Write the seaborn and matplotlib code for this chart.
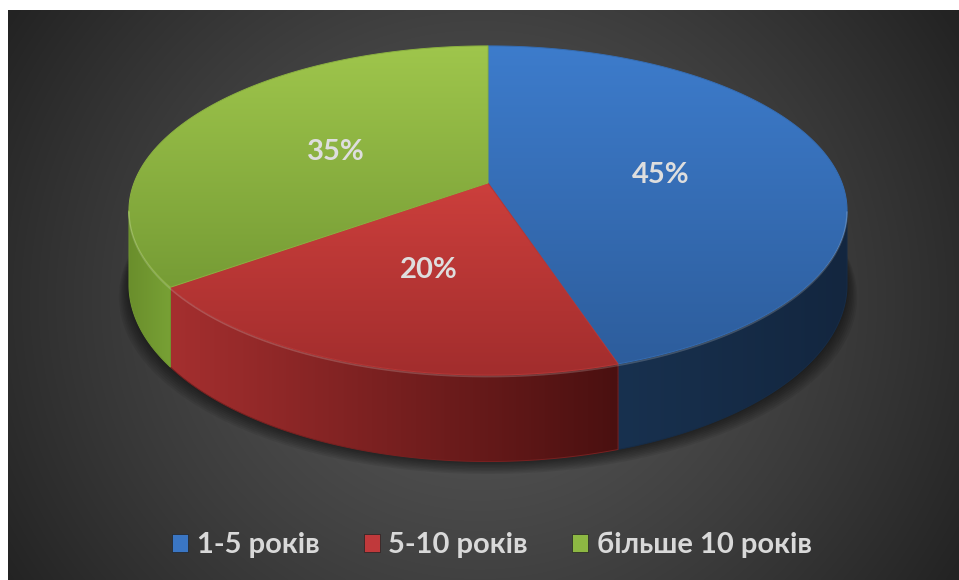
import numpy as np
import matplotlib
matplotlib.use("Agg")
import matplotlib.pyplot as plt
import seaborn as sns
from matplotlib.patches import Polygon, Patch
from matplotlib.colors import to_rgb

# data
labels = ['1-5 років', '5-10 років', 'більше 10 років']
shares = [45, 20, 35]

# colours (top face: light -> dark, side face: left -> right)
top_colors = [('#3d7ccc', '#2d5d9c'), ('#cc3f3c', '#a22d2d'), ('#9fc64c', '#769c35')]
side_colors = [('#18314f', '#13263f'), ('#a52f2f', '#4a1010'), ('#6a8e2c', '#78a135')]
legend_colors = ['#3a76c4', '#c0393b', '#8db843']

sns.set_theme(style="white")
FONT = ['Lato', 'DejaVu Sans']
plt.rcParams['font.family'] = FONT

# pie geometry in pixel space
CX, CY = 488, 183
A, B, K = 354, 160, 0.167
DEPTH = 72


def project(t, f=1.0):
    u = f * np.sin(t)
    v = f * np.cos(t)
    s = 1.0 / (1 + K * v)
    return CX + A * u * s, CY - B * v * s


def drop(t):
    return DEPTH / (1 + K * np.cos(t))


def grad_fill(ax, pts, c1, c2, horizontal=False, z=2):
    pts = np.asarray(pts)
    c1 = np.array(to_rgb(c1))
    c2 = np.array(to_rgb(c2))
    poly = Polygon(pts, closed=True, fc='none', ec='none', zorder=z)
    ax.add_patch(poly)
    x0, y0 = pts.min(0)
    x1, y1 = pts.max(0)
    w = np.linspace(0, 1, 256)
    g = c1[None, :] * (1 - w[:, None]) + c2[None, :] * w[:, None]
    img = g[None, :, :] if horizontal else g[:, None, :]
    im = ax.imshow(img, extent=(x0, x1, y1, y0), origin='upper', aspect='auto',
                   interpolation='bilinear', zorder=z)
    im.set_clip_path(poly)
    ax.add_patch(Polygon(pts, closed=True, fc='none', ec=(c1 + c2) / 2, lw=0.7, zorder=z))


fig = plt.figure(figsize=(9.59, 5.80), dpi=100)
fig.patch.set_facecolor('white')
ax = fig.add_axes([0, 0, 1, 1])

# radial background
xx, yy = np.meshgrid(np.linspace(8, 959, 480), np.linspace(10, 580, 290))
r = np.sqrt(((xx - 480) / 1.0) ** 2 + ((yy - 300) / 0.95) ** 2)
frac = np.clip(r / 560, 0, 1) ** 1.3
lev = (88 - 53 * frac) / 255
bg = np.dstack([lev, lev, lev])
ax.imshow(bg, extent=(8, 959, 580, 10), origin='upper', aspect='auto',
          interpolation='bilinear', zorder=0)

# shadow under the pie
tt = np.linspace(0, 2 * np.pi, 300)
sx, sy = project(tt)
for i in range(8):
    off = 2 + i * 1.5
    ax.add_patch(Polygon(np.column_stack([CX + (sx - CX) * (1 + i * 0.004), sy + drop(tt) + off]),
                         closed=True, fc='black', ec='none', alpha=0.07, zorder=1))

bounds = np.concatenate([[0], np.cumsum(shares)]) / np.sum(shares) * 2 * np.pi
t_lo = np.arccos(-K)
t_hi = 2 * np.pi - t_lo

# side faces
for i in range(len(shares)):
    a = max(bounds[i], t_lo)
    b = min(bounds[i + 1], t_hi)
    if a >= b:
        continue
    ts = np.linspace(a, b, 120)
    px, py = project(ts)
    pts = np.concatenate([np.column_stack([px, py]),
                          np.column_stack([px, py + drop(ts)])[::-1]])
    grad_fill(ax, pts, side_colors[i][0], side_colors[i][1], horizontal=True, z=2)

# top faces
for i in range(len(shares)):
    ts = np.linspace(bounds[i], bounds[i + 1], 200)
    px, py = project(ts)
    pts = np.concatenate([[[CX, CY]], np.column_stack([px, py])])
    grad_fill(ax, pts, top_colors[i][0], top_colors[i][1], z=3)

# highlight on the front rim
ts = np.linspace(t_lo, t_hi, 200)
px, py = project(ts)
ax.plot(px, py + 1.5, color='white', alpha=0.18, lw=1.2, zorder=4)

# percentage labels
for i, s in enumerate(shares):
    mid = (bounds[i] + bounds[i + 1]) / 2
    lx, ly = project(mid, 0.5)
    ax.text(lx, ly + 4, f'{s}%', ha='center', va='center', fontsize=21,
            fontweight='bold', color='#dedede', zorder=5)

ax.set_xlim(0, 959)
ax.set_ylim(580, 0)
ax.axis('off')

handles = [Patch(facecolor=c, edgecolor='#222222', lw=0.5) for c in legend_colors]
fig.legend(handles, labels, loc='center', bbox_to_anchor=(492 / 959, 1 - 545 / 580),
           ncol=3, frameon=False, handlelength=0.55, handleheight=0.6,
           handletextpad=0.3, columnspacing=1.5, labelcolor='#d9d9d9',
           prop={'family': FONT, 'weight': 'bold', 'size': 21})

fig.savefig('out.png', dpi=100)
